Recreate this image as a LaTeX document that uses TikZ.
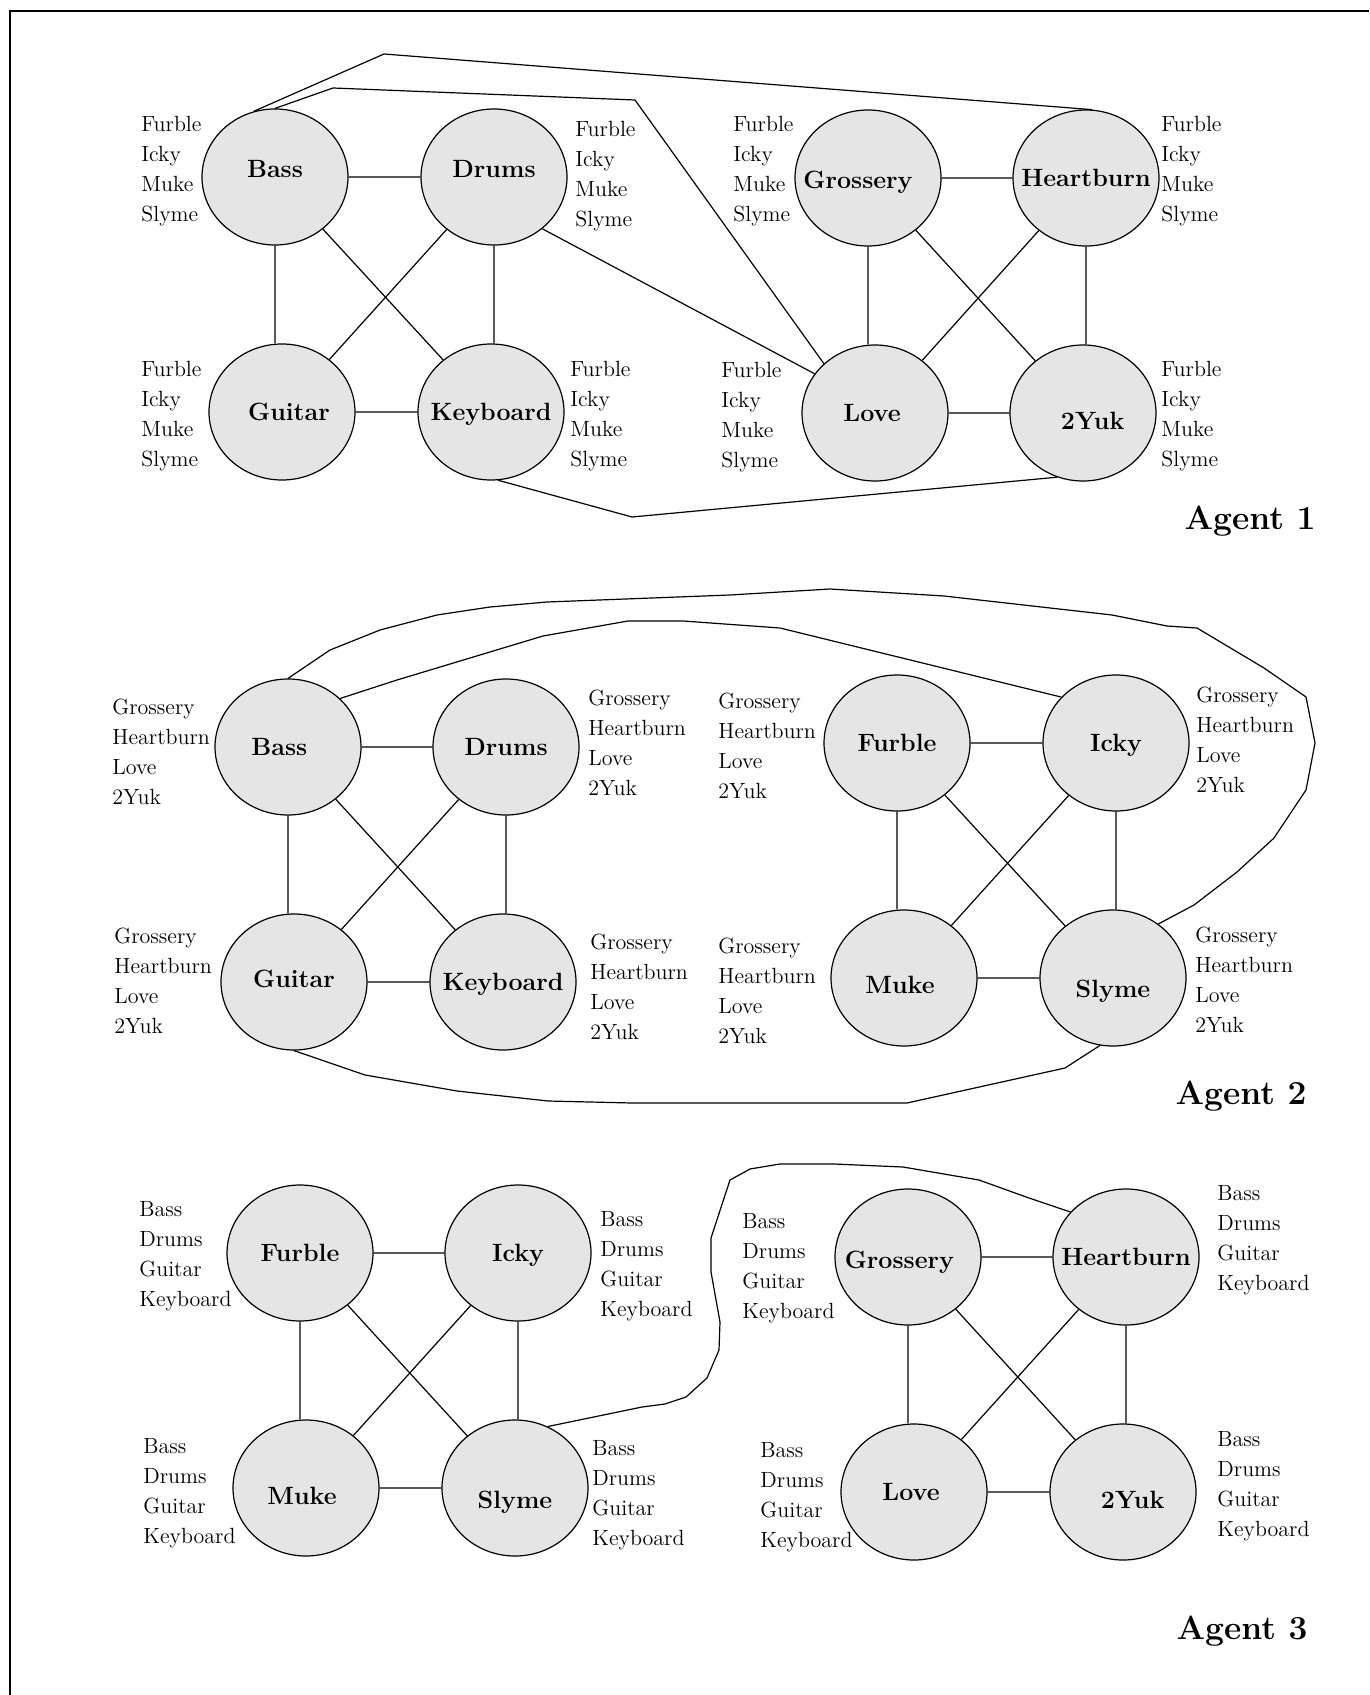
\documentclass[tikz,border=0pt]{standalone}
\usepackage{fontspec}
\usepackage{tikz}
\usetikzlibrary{shapes.geometric}

\newcommand{\listone}{Furble\\Icky\\Muke\\Slyme}
\newcommand{\listtwo}{Grossery\\Heartburn\\Love\\2Yuk}
\newcommand{\listthree}{Bass\\Drums\\Guitar\\Keyboard}

\begin{document}
\begin{tikzpicture}[x=0.5pt,y=-0.5pt,
		member/.style={ellipse,draw,fill=gray!20,line width=0.6pt,minimum width=73pt,minimum height=68pt,inner xsep=-25pt,inner ysep=0pt,text height=11.6pt,text depth=3pt,font=\fontsize{12.5}{14}\selectfont\bfseries},
		nudge/.style 2 args={execute at begin node={\hspace*{#1}},text height=#2},
		others/.style={anchor=west,align=left,inner sep=0pt,font=\fontsize{11}{15}\selectfont},
		agent/.style={font=\fontsize{16.8}{19}\selectfont\bfseries},
		link/.style={line width=0.6pt}]
	\useasboundingbox (0,0) rectangle (1369,1695);
	\draw[line width=1pt] (10,1695) -- (10,11) -- (1369,11);

	\node[member,nudge={0pt}{4pt}] (Bass1) at (275,177) {Bass};
	\node[member,nudge={0pt}{4pt}] (Drums1) at (494,177) {Drums};
	\node[member,nudge={7pt}{11.6pt}] (Guitar1) at (282,412) {Guitar};
	\node[member] (Keyboard1) at (491,412) {Keyboard};
	\node[member,nudge={-10pt}{13.6pt}] (Grossery1) at (868,178) {Grossery};
	\node[member] (Heartburn1) at (1086,178) {Heartburn};
	\node[member,nudge={-3pt}{11.6pt}] (Love1) at (875,413) {Love};
	\node[member,nudge={9.7pt}{19.2pt}] (Yuk1) at (1083,413) {2Yuk};
	\node[others] (Bass1list) at (141,171) {\listone};
	\node[others] (Drums1list) at (575,176) {\listone};
	\node[others] (Guitar1list) at (141,416) {\listone};
	\node[others] (Keyboard1list) at (570,416) {\listone};
	\node[others] (Grossery1list) at (733,171) {\listone};
	\node[others] (Heartburn1list) at (1161,171) {\listone};
	\node[others] (Love1list) at (721,417) {\listone};
	\node[others] (Yuk1list) at (1161,416) {\listone};
	\node[agent] (agent1) at (1250,521) {Agent 1};

	\node[member,nudge={-8.6pt}{11.6pt}] (Bass2) at (288,747) {Bass};
	\node[member] (Drums2) at (506,747) {Drums};
	\node[member,nudge={0pt}{8.6pt}] (Guitar2) at (294,982) {Guitar};
	\node[member] (Keyboard2) at (503,982) {Keyboard};
	\node[member] (Furble2) at (897,743) {Furble};
	\node[member] (Icky2) at (1116,743) {Icky};
	\node[member,nudge={-4pt}{18.1pt}] (Muke2) at (904,978) {Muke};
	\node[member,nudge={0pt}{22.4pt}] (Slyme2) at (1113,978) {Slyme};
	\node[others] (Bass2list) at (112,752) {\listtwo};
	\node[others] (Drums2list) at (588,743) {\listtwo};
	\node[others] (Guitar2list) at (114,981) {\listtwo};
	\node[others] (Keyboard2list) at (590,987) {\listtwo};
	\node[others] (Furble2list) at (718,746) {\listtwo};
	\node[others] (Icky2list) at (1196,740) {\listtwo};
	\node[others] (Muke2list) at (718,991) {\listtwo};
	\node[others] (Slyme2list) at (1195,980) {\listtwo};
	\node[agent] (agent2) at (1241,1096) {Agent 2};

	\node[member] (Furble3) at (300,1253) {Furble};
	\node[member] (Icky3) at (518,1253) {Icky};
	\node[member,nudge={-4pt}{19.2pt}] (Muke3) at (306,1488) {Muke};
	\node[member,nudge={0pt}{23.6pt}] (Slyme3) at (515,1488) {Slyme};
	\node[member,nudge={-8.6pt}{14.6pt}] (Grossery3) at (908,1257) {Grossery};
	\node[member] (Heartburn3) at (1126,1257) {Heartburn};
	\node[member,nudge={-3pt}{11.6pt}] (Love3) at (914,1492) {Love};
	\node[member,nudge={9.7pt}{19.2pt}] (Yuk3) at (1123,1492) {2Yuk};
	\node[others] (Furble3list) at (139,1256) {\listthree};
	\node[others] (Icky3list) at (600,1266) {\listthree};
	\node[others] (Muke3list) at (143,1493) {\listthree};
	\node[others] (Slyme3list) at (592,1495) {\listthree};
	\node[others] (Grossery3list) at (742,1268) {\listthree};
	\node[others] (Heartburn3list) at (1217,1240) {\listthree};
	\node[others] (Love3list) at (760,1497) {\listthree};
	\node[others] (Yuk3list) at (1217,1486) {\listthree};
	\node[agent] (agent3) at (1242,1631) {Agent 3};

	\foreach \p/\q/\r/\s in {Bass1/Drums1/Guitar1/Keyboard1,Grossery1/Heartburn1/Love1/Yuk1,
			Bass2/Drums2/Guitar2/Keyboard2,Furble2/Icky2/Muke2/Slyme2,
			Furble3/Icky3/Muke3/Slyme3,Grossery3/Heartburn3/Love3/Yuk3}
		\draw[link] (\p) -- (\q) (\p) -- (\p |- \r.north) (\q) -- (\q |- \s.north) (\r) -- (\s) (\p) -- (\s) (\q) -- (\r);

	\draw[link] (Bass1.108) -- (384,54) -- (Heartburn1.85);
	\draw[link] (Bass1.north) -- (333,88) -- (635,100) -- (Love1.136);
	\draw[link] (Drums1.-47) -- (Love1.147);
	\draw[link] (Keyboard1.-84) -- (632,517) -- (Yuk1.-112);

	\draw[link] (Bass2.north) -- (330,650) -- (380,630) -- (437,615) -- (490,607) -- (547,602) -- (730,595)
		-- (830,589) -- (944,596) -- (1112,615) -- (1167,626) -- (1197,628) -- (1264,668) -- (1306,697)
		-- (1315,743) -- (1306,790) -- (1274,838) -- (1237,872) -- (1194,905) -- (Slyme2.50);
	\draw[link] (Bass2.43) -- (397,680) -- (543,636) -- (628,621) -- (683,621) -- (780,628) -- (Icky2.140);
	\draw[link] (Guitar2.south) -- (365,1075) -- (457,1091) -- (548,1101) -- (632,1103) -- (907,1103)
		-- (1065,1068) -- (Slyme2.-101);

	\draw[link] (Slyme3.62) -- (642,1407) -- (665,1404) -- (686,1397) -- (707,1378) -- (719,1350) -- (720,1322)
		-- (711,1272) -- (711,1238) -- (730,1180) -- (750,1169) -- (780,1164) -- (834,1164) -- (903,1167)
		-- (979,1180) -- (1029,1198) -- (Heartburn3.141);
\end{tikzpicture}
\end{document}
